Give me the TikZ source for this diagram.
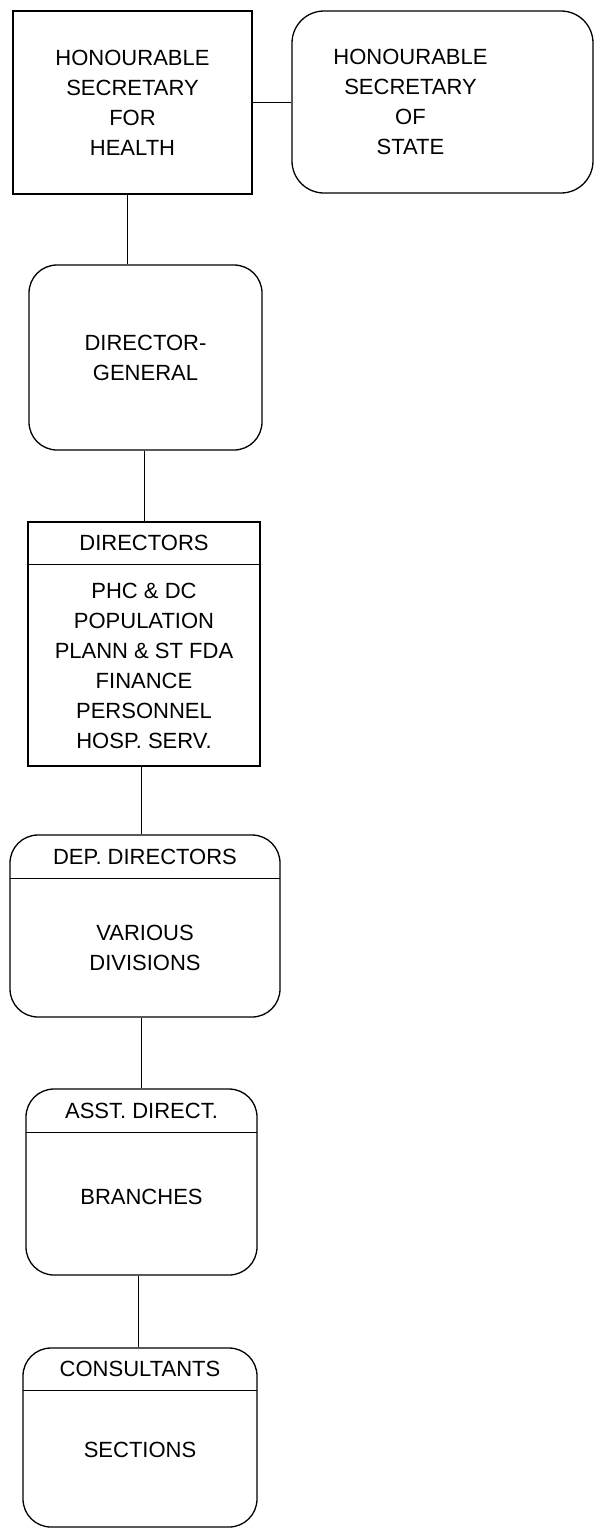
\documentclass[tikz,border=0pt]{standalone}
\usepackage{fontspec}
\setmainfont{Liberation Sans}
\usetikzlibrary{positioning, calc}
\tikzset{
    font=\fontsize{22}{30}\selectfont,
    orgbox/.style={rectangle, draw=black, line width=1.3pt, align=center, inner sep=0pt},
    roundbox/.style={orgbox, rounded corners=28pt},
    headbox/.style={rectangle, inner sep=0pt, minimum height=43pt, anchor=north},
    bodytext/.style={align=center, inner sep=0pt},
    link/.style={draw=black, line width=1pt},
    divider/.style={draw=black, line width=1.3pt}
}

\begin{document}
\begin{tikzpicture}[x=1pt, y=-1pt]
    \useasboundingbox (0,0) rectangle (594,1529);

    % Top row
    \node (health) [orgbox, minimum width=239, minimum height=183] at (132.5,102.5) {HONOURABLE\\SECRETARY\\FOR\\HEALTH};
    \node (state) [roundbox, rounded corners=32pt, minimum width=301, minimum height=182,
        label={[bodytext, xshift=-32pt]center:HONOURABLE\\SECRETARY\\OF\\STATE}] at (442.5,102) {};

    % Director-General
    \node (dg) [roundbox, minimum width=233, minimum height=185] at (145.5,357.5) {DIRECTOR-\\GENERAL};

    % Directors
    \node (dirs) [orgbox, minimum width=232, minimum height=244] at (144,644) {};
    \node (dirs-h) [headbox, minimum width=232] at (dirs.north) {DIRECTORS};
    \node (dirs-b) [bodytext] at ($(dirs-h.south)!0.5!(dirs.south)$) {PHC \& DC\\POPULATION\\PLANN \& ST FDA\\FINANCE\\PERSONNEL\\HOSP. SERV.};
    \draw [divider] (dirs-h.south west) -- (dirs-h.south east);

    % Deputy directors
    \node (dep) [roundbox, minimum width=270, minimum height=182] at (145,926) {};
    \node (dep-h) [headbox, minimum width=270, minimum height=44pt] at (dep.north) {DEP. DIRECTORS};
    \node (dep-b) [bodytext] at ($(dep-h.south)!0.5!(dep.south)$) {VARIOUS\\DIVISIONS};
    \draw [divider] (dep-h.south west) -- (dep-h.south east);

    % Assistant directors
    \node (asst) [roundbox, minimum width=231, minimum height=186] at (141.5,1182) {};
    \node (asst-h) [headbox, minimum width=231, minimum height=44pt] at (asst.north) {ASST. DIRECT.};
    \node (asst-b) [bodytext, yshift=7pt] at ($(asst-h.south)!0.5!(asst.south)$) {BRANCHES};
    \draw [divider] (asst-h.south west) -- (asst-h.south east);

    % Consultants
    \node (cons) [roundbox, minimum width=234, minimum height=179] at (140,1437.5) {};
    \node (cons-h) [headbox, minimum width=234] at (cons.north) {CONSULTANTS};
    \node (cons-b) [bodytext, yshift=9pt] at ($(cons-h.south)!0.5!(cons.south)$) {SECTIONS};
    \draw [divider] (cons-h.south west) -- (cons-h.south east);

    % Links
    \draw [link] (health.east) -- (health.east -| state.west);
    \draw [link] ([xshift=-5.5pt]health.south) -- ([xshift=-5.5pt]health.south |- dg.north);
    \draw [link] (dirs.north |- dg.south) -- (dirs.north);
    \draw [link] ([xshift=-3pt]dirs.south) -- ([xshift=-3pt]dirs.south |- dep.north);
    \draw [link] (asst.north |- dep.south) -- (asst.north);
    \draw [link] ([xshift=-2pt]cons.north |- asst.south) -- ([xshift=-2pt]cons.north);

\end{tikzpicture}
\end{document}
